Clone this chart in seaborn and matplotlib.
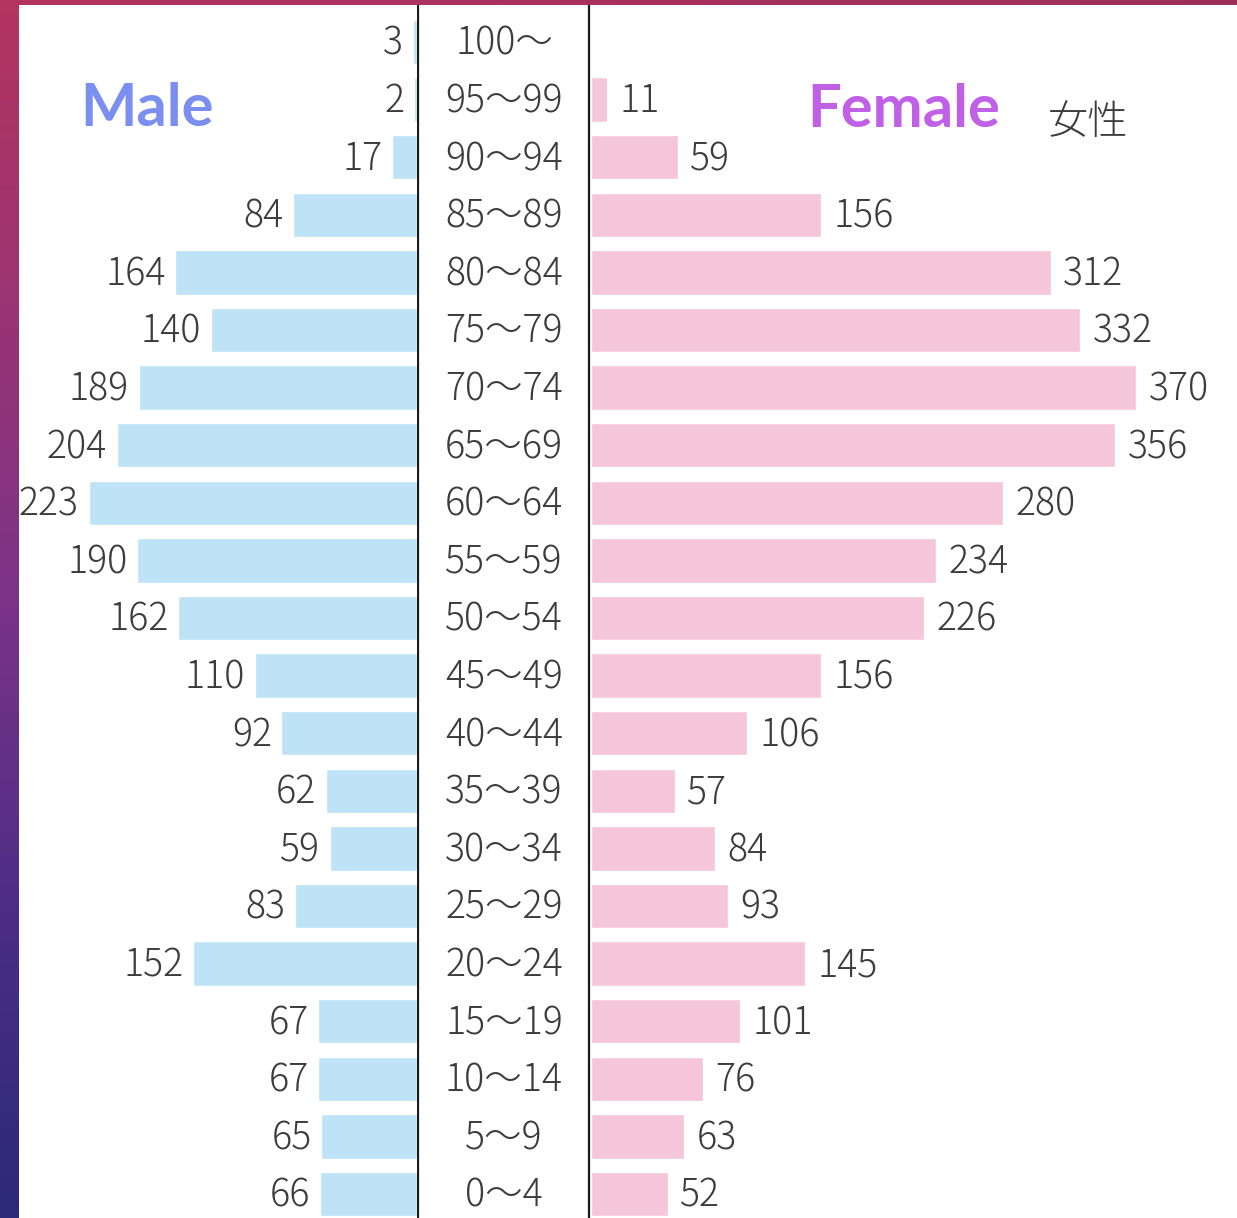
import numpy as np
import matplotlib
matplotlib.use("Agg")
import matplotlib.pyplot as plt
import seaborn as sns
from matplotlib.colors import LinearSegmentedColormap

sns.set_theme(style="white")
plt.rcParams['font.family'] = ['Noto Sans CJK JP', 'DejaVu Sans']

# ---- data ----
ages = ["100～", "95～99", "90～94", "85～89", "80～84", "75～79", "70～74",
        "65～69", "60～64", "55～59", "50～54", "45～49", "40～44", "35～39",
        "30～34", "25～29", "20～24", "15～19", "10～14", "5～9", "0～4"]
male = [3, 2, 17, 84, 164, 140, 189, 204, 223, 190, 162, 110, 92, 62, 59,
        83, 152, 67, 67, 65, 66]
female = [np.nan, 11, 59, 156, 312, 332, 370, 356, 280, 234, 226, 156, 106,
          57, 84, 93, 145, 101, 76, 63, 52]
title_male = "Male"
title_female = "Female"
title_jp = "女性"

# ---- styling ----
W, H = 1237, 1218
MALE_C = "#bee3f6"
FEMALE_C = "#f5c5da"
TXT = "#3c3c3c"
PXU = 1.473          # pixels per unit
FS = 27
FW = "light"
ROW = 57.6
Y0 = 42

fig = plt.figure(figsize=(W / 100, H / 100), dpi=100)
fig.patch.set_facecolor("white")

def fx(px):
    return px / W

y_top = -Y0 / ROW
y_bot = (H - Y0) / ROW

male_left, male_right = 0, 417
fem_left = 591

axm = fig.add_axes([fx(male_left), 0, fx(male_right - male_left), 1])
axf = fig.add_axes([fx(fem_left), 0, fx(W - fem_left), 1])
axc = fig.add_axes([fx(male_right), 0, fx(fem_left - male_right), 1])

sns.barplot(x=male, y=ages, order=ages, ax=axm, color=MALE_C, orient="h",
            width=0.77, saturation=1, errorbar=None)
sns.barplot(x=female, y=ages, order=ages, ax=axf, color=FEMALE_C, orient="h",
            width=0.77, saturation=1, errorbar=None)

axm.set_xlim((male_right - male_left) / PXU, 0)
axf.set_xlim(0, (W - fem_left) / PXU)
axc.set_xlim(0, 1)

for ax in (axm, axf, axc):
    ax.set_ylim(y_bot, y_top)
    ax.set_facecolor("none")
    ax.set_xticks([])
    ax.set_yticks([])
    ax.set_xlabel("")
    ax.set_ylabel("")
    for s in ax.spines.values():
        s.set_visible(False)

YOFF = -1.5
for cont in axm.containers:
    anns = axm.bar_label(cont, labels=[f"{w:.0f}" if w > 0 else "" for w in cont.datavalues],
                         padding=7, fontsize=FS, color=TXT, fontweight=FW, clip_on=False)
    for a in anns:
        a.xyann = (a.xyann[0], YOFF)
for cont in axf.containers:
    anns = axf.bar_label(cont, labels=[f"{w:.0f}" if w > 0 else "" for w in cont.datavalues],
                         padding=9, fontsize=FS, color=TXT, fontweight=FW, clip_on=False)
    for a in anns:
        a.xyann = (a.xyann[0], YOFF)

for i, lab in enumerate(ages):
    axc.annotate(lab, (0.5, i), xytext=(0, YOFF), textcoords="offset points",
                 ha="center", va="center", fontsize=FS, color=TXT, fontweight=FW)

axc.axvline(0.005, color="#1a1a1a", lw=1.6)
axc.axvline(0.99, color="#1a1a1a", lw=1.6)

fig.text(fx(80), 1 - 126 / H, title_male, ha="left", va="baseline",
         fontsize=43, fontweight="bold", color="#7b8ff0", family="Lato")
fig.text(fx(807), 1 - 127 / H, title_female, ha="left", va="baseline",
         fontsize=43, fontweight="bold", color="#c060e6", family="Lato")
fig.text(fx(1088), 1 - 123 / H, title_jp, ha="center", va="center",
         fontsize=29, color=TXT, fontweight=FW)

# slide background strips
cmap = LinearSegmentedColormap.from_list(
    "bg", ["#b3345f", "#9a3474", "#7a3388", "#4c2d86", "#2b2a78"])
strip = fig.add_axes([0, 0, fx(19), 1])
strip.imshow(np.linspace(0, 1, 256).reshape(-1, 1), aspect="auto", cmap=cmap,
             extent=[0, 1, 0, 1], origin="upper")
strip.set_axis_off()
strip.set_zorder(10)
topstrip = fig.add_axes([0, 1 - 5 / H, 1, 5 / H])
topstrip.imshow(np.linspace(0, 1, 64).reshape(1, -1), aspect="auto",
                cmap=LinearSegmentedColormap.from_list("t", ["#b3345f", "#a8305e", "#9c2f5a"]),
                extent=[0, 1, 0, 1])
topstrip.set_axis_off()
topstrip.set_zorder(10)

fig.savefig("out.png", dpi=100, facecolor="white")
